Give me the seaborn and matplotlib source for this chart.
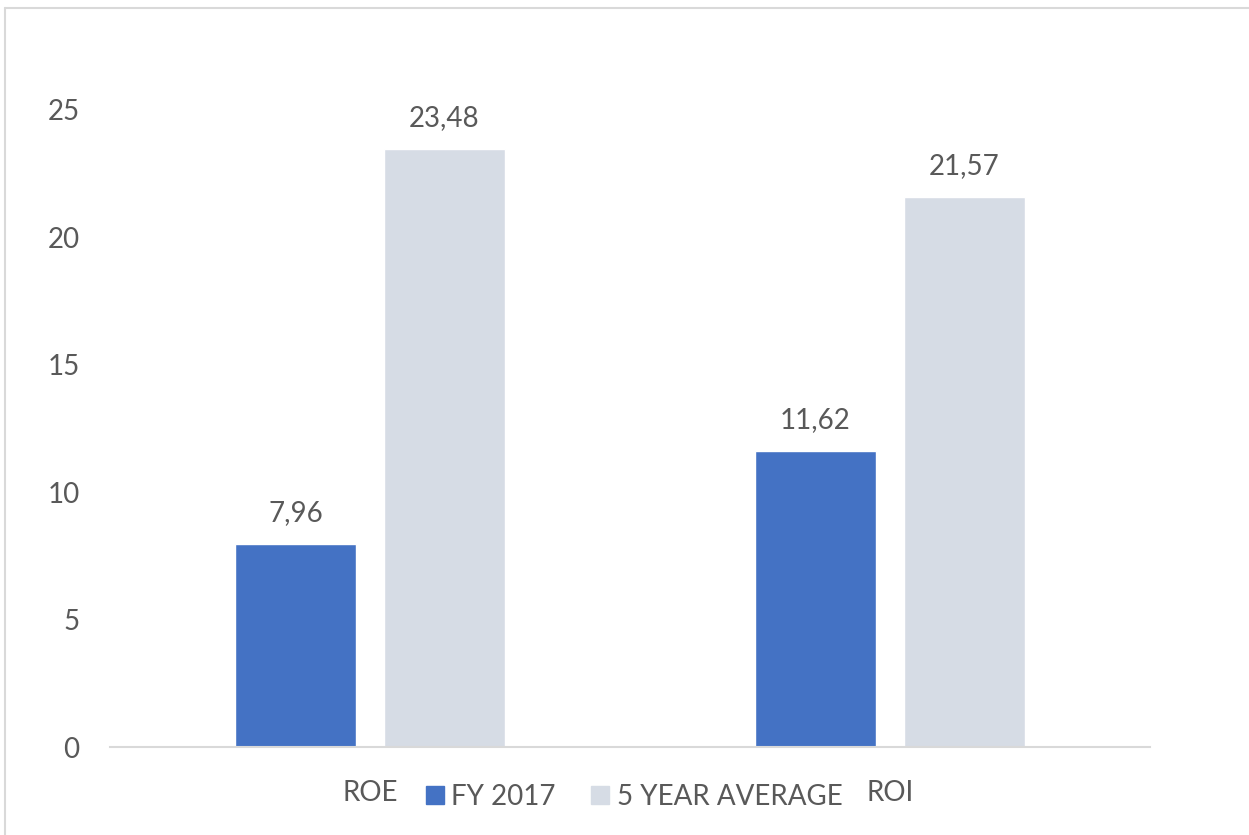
import matplotlib
matplotlib.use("Agg")
import matplotlib.pyplot as plt
import seaborn as sns
import pandas as pd
from matplotlib.lines import Line2D

categories = ["ROE", "ROI"]
series_names = ["FY 2017", "5 YEAR AVERAGE"]
fy2017 = [7.96, 11.62]
five_year_avg = [23.48, 21.57]
y_ticks = [0, 5, 10, 15, 20, 25]
colors = ["#4472C4", "#D6DCE5"]

df = pd.DataFrame({
    "cat": categories * 2,
    "series": [series_names[0]] * 2 + [series_names[1]] * 2,
    "value": fy2017 + five_year_avg,
})

sns.set_theme(style="white")
plt.rcParams["font.family"] = ["Lato", "DejaVu Sans"]
text_color = "#595959"

fig = plt.figure(figsize=(12.49, 8.35), dpi=100)
ax = fig.add_axes([110 / 1249, 88 / 835, 1040 / 1249, 637 / 835])

sns.barplot(data=df, x="cat", y="value", hue="series", order=categories,
            hue_order=series_names, palette=colors, width=0.573, gap=0.19,
            saturation=1, ax=ax, legend=False)

for container in ax.containers:
    labels = [f"{b.get_height():.2f}".replace(".", ",") for b in container]
    ax.bar_label(container, labels=labels, padding=13, fontsize=20, color=text_color)

ax.set_ylim(0, 25)
ax.set_xlim(-0.5, 1.5)
ax.set_yticks(y_ticks)
ax.set_yticklabels([str(t) for t in y_ticks])
ax.set_xlabel("")
ax.set_ylabel("")
for s in ["top", "right", "left"]:
    ax.spines[s].set_visible(False)
ax.spines["bottom"].set_color("#D9D9D9")
ax.spines["bottom"].set_linewidth(1.5)
ax.tick_params(axis="y", length=0, pad=22, labelsize=20, labelcolor=text_color)
ax.tick_params(axis="x", length=0, pad=24, labelsize=20, labelcolor=text_color)

handles = [Line2D([0], [0], marker="s", linestyle="none", markersize=13,
                  markerfacecolor=c, markeredgecolor=c) for c in colors]
fig.legend(handles, series_names, loc="center", bbox_to_anchor=(633 / 1249, 1 - 797 / 835),
           ncol=2, frameon=False, fontsize=20, labelcolor=text_color,
           handletextpad=0.2, columnspacing=1.2, handlelength=0.8)

# outer chart border (top and left visible)
fig.add_artist(Line2D([5 / 1249, 1], [1 - 8 / 835, 1 - 8 / 835], transform=fig.transFigure,
                      color="#D9D9D9", linewidth=1.5))
fig.add_artist(Line2D([5 / 1249, 5 / 1249], [0, 1 - 8 / 835], transform=fig.transFigure,
                      color="#D9D9D9", linewidth=1.5))

fig.savefig("out.png", dpi=100)
